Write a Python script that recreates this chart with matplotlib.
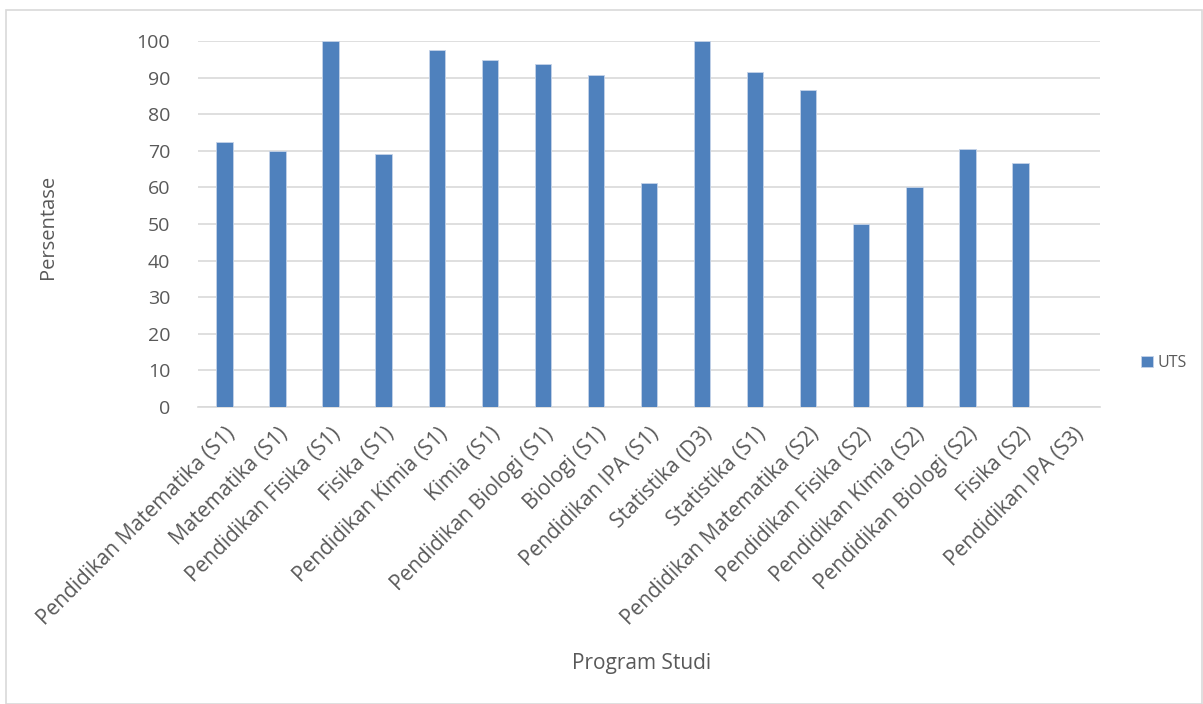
import matplotlib
matplotlib.use('Agg')
import matplotlib.pyplot as plt
from matplotlib.patches import Rectangle

# data
prodi = ['Pendidikan Matematika (S1)', 'Matematika (S1)', 'Pendidikan Fisika (S1)',
         'Fisika (S1)', 'Pendidikan Kimia (S1)', 'Kimia (S1)', 'Pendidikan Biologi (S1)',
         'Biologi (S1)', 'Pendidikan IPA (S1)', 'Statistika (D3)', 'Statistika (S1)',
         'Pendidikan Matematika (S2)', 'Pendidikan Fisika (S2)', 'Pendidikan Kimia (S2)',
         'Pendidikan Biologi (S2)', 'Fisika (S2)', 'Pendidikan IPA (S3)']
uts = [72.4, 70.0, 100, 69.0, 97.5, 94.7, 93.8, 90.6, 61.1, 100, 91.4,
       86.5, 50.0, 60.0, 70.5, 66.7, 0]
yticks = list(range(0, 101, 10))

plt.rcParams['font.family'] = ['Open Sans', 'DejaVu Sans']
grey = '#595959'

fig = plt.figure(figsize=(12.03, 7.04), dpi=100)
ax = fig.add_axes([198/1203, 1 - 407/704, (1100 - 198)/1203, (407 - 41)/704])

x = list(range(len(prodi)))
bars = ax.bar(x, uts, width=0.31, color='#4f81bd', edgecolor='#c5d3e8', linewidth=0.6,
              label='UTS', zorder=3)

ax.set_xlim(-0.5, len(prodi) - 0.5)
ax.set_ylim(0, 100)
ax.set_yticks(yticks)
ax.yaxis.grid(True, color='#d9d9d9', linewidth=1.2, zorder=0)
ax.set_axisbelow(True)
for s in ['top', 'right', 'left']:
    ax.spines[s].set_visible(False)
ax.spines['bottom'].set_color('#d9d9d9')
ax.spines['bottom'].set_linewidth(1.2)
ax.tick_params(axis='both', length=0, colors=grey, labelsize=14)
ax.tick_params(axis='y', pad=20)
ax.set_xticks(x)
ax.set_xticklabels(prodi, rotation=45, ha='right', rotation_mode='anchor', fontsize=15)
ax.tick_params(axis='x', pad=12)

fig.text(48/1203, 1 - 227/704, 'Persentase', rotation=90, ha='center', va='center',
         color=grey, fontsize=14.5)
fig.text(642/1203, 1 - 663/704, 'Program Studi', ha='center', va='center',
         color=grey, fontsize=15)

leg = fig.legend(handles=[bars], labels=['UTS'], loc='center left',
                 bbox_to_anchor=(1127/1203, 1 - 363/704), frameon=False,
                 handlelength=0.7, handleheight=0.7, handletextpad=0.3, fontsize=11.5)
for t in leg.get_texts():
    t.set_color(grey)

fig.patches.append(Rectangle((6/1203, 0), 1 - 6/1203 - 0.001, 1 - 10/704, transform=fig.transFigure,
                             fill=False, edgecolor='#d9d9d9', linewidth=1.2))

plt.savefig('out.png', dpi=100)
